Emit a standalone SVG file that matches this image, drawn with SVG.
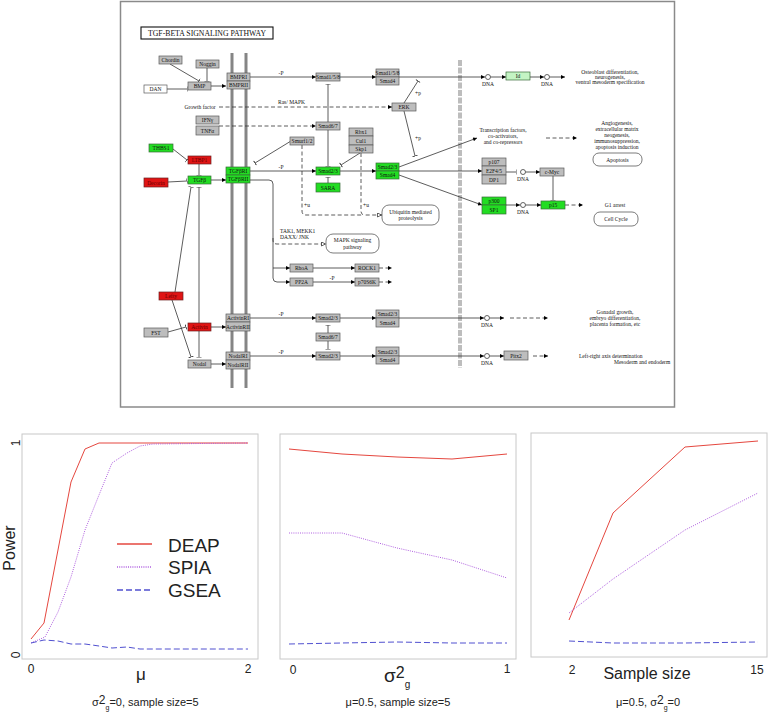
<svg xmlns="http://www.w3.org/2000/svg" width="771" height="715" viewBox="0 0 771 715">
<defs>
<style>
.n{fill:#bdbdbd;stroke:#5a5a5a;stroke-width:0.7}
.w{fill:#fff;stroke:#5a5a5a;stroke-width:0.7}
.g{fill:#22dd22;stroke:#3a6a3a;stroke-width:0.7}
.r{fill:#e01414;stroke:#6a2020;stroke-width:0.7}
.lg{fill:#c4f4c4;stroke:#3a6a3a;stroke-width:0.7}
.m{fill:#fff;stroke:#444;stroke-width:0.7}
text{font-family:"Liberation Serif",serif;font-size:5.5px;fill:#111}
.t{text-anchor:middle}
.rt{fill:#600}
.c{fill:none;stroke:#333;stroke-width:0.8}
.d{stroke-dasharray:4 2.5}
.ar{marker-end:url(#a)}
.tb{marker-end:url(#b)}
.oa{marker-end:url(#o)}
.dna{fill:#fff;stroke:#222;stroke-width:0.7}
.pf{fill:none;stroke:#c8c8c8;stroke-width:1}
.p{font-family:"Liberation Sans",Arial,sans-serif;fill:#222}
.deap{fill:none;stroke:#e5473f;stroke-width:1}
.spia{fill:none;stroke:#b060e0;stroke-width:1;stroke-dasharray:1 1.2}
.gsea{fill:none;stroke:#5050d0;stroke-width:1;stroke-dasharray:6 3}
</style>
<marker id="a" viewBox="0 0 10 10" refX="10" refY="5" markerWidth="5" markerHeight="4" orient="auto" markerUnits="userSpaceOnUse"><path d="M0,0L10,5L0,10z" fill="#000"/></marker>
<marker id="b" viewBox="0 0 2 10" refX="1" refY="5" markerWidth="1" markerHeight="7" orient="auto" markerUnits="userSpaceOnUse"><rect width="2" height="10" fill="#444"/></marker>
<marker id="o" viewBox="0 0 10 10" refX="10" refY="5" markerWidth="5" markerHeight="5" orient="auto" markerUnits="userSpaceOnUse"><path d="M1,1L9,5L1,9z" fill="#fff" stroke="#000" stroke-width="1.2"/></marker>
</defs>
<rect width="771" height="715" fill="#fff"/>

<g id="pathway-frame">
<rect x="120.5" y="1.5" width="554" height="405.5" fill="#fff" stroke="#8a8a8a" stroke-width="1.5"/>
<rect x="141" y="27" width="132" height="12" fill="#fff" stroke="#111" stroke-width="1.1"/>
<text x="207" y="36" class="t" style="font-size:8px" textLength="118" lengthAdjust="spacingAndGlyphs">TGF-BETA SIGNALING PATHWAY</text>
<line x1="232" y1="53" x2="232" y2="388" stroke="#858585" stroke-width="3"/>
<line x1="246" y1="53" x2="246" y2="388" stroke="#858585" stroke-width="3"/>
<line x1="460" y1="60" x2="460" y2="368" stroke="#bdbdbd" stroke-width="4" stroke-dasharray="6 1.5"/>
</g>

<g id="connectors">
<path class="c tb" d="M170,64L199,81"/>
<path class="c tb" d="M207,68L207,81"/>
<path class="c tb" d="M167,89L187,89"/>
<path class="c ar" d="M211,86L226,86"/>
<path class="c ar" d="M250,77L316,77"/>
<path class="c ar" d="M340,77L376,77"/>
<path class="c ar" d="M399,77L485,77"/>
<path class="c ar" d="M490.5,77L506,77"/>
<path class="c ar" d="M530,77L544,77"/>
<path class="c ar" d="M549.5,77L565,77"/>
<path class="c d ar" d="M219,107L392,107"/>
<path class="c d ar" d="M219,126L316,126"/>
<path class="c tb" d="M328,122L328,84"/>
<path class="c tb" d="M328,130L328,166"/>
<path class="c tb" d="M404,103L418,81"/>
<path class="c tb" d="M404,111L415,156"/>
<path class="c tb" d="M291,141L255,163"/>
<path class="c tb" d="M360,153L341,165"/>
<path class="c d" d="M302,145L302,211Q302,215 306,215L362,215"/>
<path class="c d oa" d="M361,153L361,211Q361,215 365,215L382,215"/>
<path class="c tb" d="M173,149L187,160"/>
<path class="c tb" d="M199,164L199,175"/>
<path class="c tb" d="M168,182L187,181"/>
<path class="c ar" d="M211,180L226,180"/>
<path class="c ar" d="M250,171L316,171"/>
<path class="c ar" d="M340,171L376,171"/>
<path class="c tb" d="M328,183L328,177"/>
<path class="c ar" d="M399,167L477,138"/>
<path class="c ar" d="M399,171L482,171"/>
<path class="c ar" d="M399,175L482,205"/>
<path class="c d ar" d="M546,138L577,138"/>
<path class="c tb" d="M506,172L516,172"/>
<path class="c ar" d="M525.5,172L540,172"/>
<path class="c tb" d="M553,176L553,200"/>
<path class="c ar" d="M506,205L520,205"/>
<path class="c ar" d="M525.5,205L541,205"/>
<path class="c d ar" d="M565,205L583,205"/>
<path class="c ar" d="M250,180L269,180Q273,180 273,184L273,278Q273,282 277,282L290,282"/>
<path class="c ar" d="M273,268L290,268"/>
<path class="c d oa" d="M273,238L273,240Q273,244 277,244L326,244"/>
<path class="c ar" d="M313,268L355,268"/>
<path class="c d ar" d="M379,268L392,268"/>
<path class="c ar" d="M313,282L355,282"/>
<path class="c d ar" d="M379,282L392,282"/>
<path class="c tb" d="M175,292L191,187"/>
<path class="c tb" d="M172,300L191,357"/>
<path class="c tb" d="M199,187L199,357" marker-start="url(#b)"/>
<path class="c tb" d="M168,332L186,327"/>
<path class="c ar" d="M211,327L226,327"/>
<path class="c ar" d="M250,318L316,318"/>
<path class="c ar" d="M340,318L376,318"/>
<path class="c ar" d="M399,318L484,318"/>
<path class="c ar" d="M489.5,318L504,318"/>
<path class="c d ar" d="M510,318L548,318"/>
<path class="c tb" d="M328,333L328,325"/>
<path class="c tb" d="M328,341L328,349"/>
<path class="c ar" d="M211,364L226,364"/>
<path class="c ar" d="M250,356L316,356"/>
<path class="c ar" d="M340,356L376,356"/>
<path class="c ar" d="M399,356L484,356"/>
<path class="c ar" d="M489.5,356L504,356"/>
<path class="c d ar" d="M533,356L548,356"/>
<circle class="dna" cx="488" cy="77" r="2.5"/>
<circle class="dna" cx="547" cy="77" r="2.5"/>
<circle class="dna" cx="523" cy="172" r="2.5"/>
<circle class="dna" cx="523" cy="205" r="2.5"/>
<circle class="dna" cx="487" cy="318" r="2.5"/>
<circle class="dna" cx="487" cy="356" r="2.5"/>
<text class="t" x="281" y="75">-P</text>
<text class="t" x="281" y="169">-P</text>
<text class="t" x="281" y="316">-P</text>
<text class="t" x="281" y="354">-P</text>
<text class="t" x="332" y="280">-P</text>
<text class="t" x="418" y="95">+p</text>
<text class="t" x="418" y="140">+p</text>
<text class="t" x="307" y="207">+u</text>
<text class="t" x="366" y="207">+u</text>
<text x="278" y="104">Ras/ MAPK</text>
</g>

<g id="labels">
<text class="t" x="200" y="109">Growth factor</text>
<text x="280" y="233">TAK1, MEKK1</text>
<text x="280" y="238.5">DAXX/ JNK</text>
<text class="t" x="488" y="86">DNA</text>
<text class="t" x="547" y="86">DNA</text>
<text class="t" x="523" y="181">DNA</text>
<text class="t" x="523" y="214">DNA</text>
<text class="t" x="487" y="327">DNA</text>
<text class="t" x="487" y="365">DNA</text>
<text class="t" x="610" y="74">Osteoblast differentiation,</text>
<text class="t" x="610" y="79">neurogenesis,</text>
<text class="t" x="610" y="84">ventral mesoderm specification</text>
<text class="t" x="503" y="132">Transcription factors,</text>
<text class="t" x="503" y="138">co-activators,</text>
<text class="t" x="503" y="144">and co-repressors</text>
<text class="t" x="617" y="125">Angiogenesis,</text>
<text class="t" x="617" y="131">extracellular matrix</text>
<text class="t" x="617" y="137">neogenesis,</text>
<text class="t" x="617" y="143">immunosuppression,</text>
<text class="t" x="617" y="149">apoptosis induction</text>
<text class="t" x="615" y="207">G1 arrest</text>
<text class="t" x="615" y="314">Gonadal growth,</text>
<text class="t" x="615" y="320">embryo differentiation,</text>
<text class="t" x="615" y="326">placenta formation, etc</text>
<text x="579" y="358">Left-right axis determination</text>
<text x="614" y="363.5">Mesoderm and endoderm</text>
</g>

<g id="chordin"><rect class="n" x="159" y="56" width="23" height="8"/><text class="t" x="170.5" y="62">Chordin</text></g>
<g id="noggin"><rect class="n" x="196" y="60" width="23" height="8"/><text class="t" x="207.5" y="66">Noggin</text></g>
<g id="bmp"><rect class="n" x="188" y="82" width="23" height="8"/><text class="t" x="199.5" y="88">BMP</text></g>
<g id="dan"><rect class="w" x="144" y="85" width="23" height="8"/><text class="t" x="155.5" y="91">DAN</text></g>
<g id="bmpr"><rect class="n" x="227" y="73" width="23" height="8"/><text class="t" x="238.5" y="79">BMPRI</text><rect class="n" x="227" y="81" width="23" height="8"/><text class="t" x="238.5" y="87">BMPRII</text></g>
<g id="ifng"><rect class="n" x="196" y="116" width="23" height="8"/><text class="t" x="207.5" y="122">IFNγ</text></g>
<g id="tnfa"><rect class="n" x="196" y="126" width="23" height="9"/><text class="t" x="207.5" y="132.5">TNFα</text></g>
<g id="thbs1"><rect class="g" x="149" y="144" width="24" height="8"/><text class="t" x="161" y="150">THBS1</text></g>
<g id="ltbp1"><rect class="r" x="188" y="156" width="23" height="8"/><text class="t rt" x="199.5" y="162">LTBP1</text></g>
<g id="tgfb"><rect class="g" x="188" y="176" width="23" height="8"/><text class="t" x="199.5" y="182">TGFβ</text></g>
<g id="decorin"><rect class="r" x="144" y="178" width="24" height="9"/><text class="t rt" x="156" y="184.5">Decorin</text></g>
<g id="tgfbr"><rect class="g" x="226" y="167" width="24" height="8"/><text class="t" x="238" y="173">TGFβRI</text><rect class="g" x="226" y="175" width="24" height="8"/><text class="t" x="238" y="181">TGFβRII</text></g>
<g id="lefty"><rect class="r" x="159" y="292" width="24" height="8"/><text class="t rt" x="171" y="298">Lefty</text></g>
<g id="fst"><rect class="n" x="144" y="328" width="24" height="9"/><text class="t" x="156" y="334.5">FST</text></g>
<g id="activin"><rect class="r" x="188" y="323" width="23" height="8"/><text class="t rt" x="199.5" y="329">Activin</text></g>
<g id="activinr"><rect class="n" x="226" y="314" width="24" height="8"/><text class="t" x="238" y="320">ActivinRI</text><rect class="n" x="226" y="322" width="24" height="9"/><text class="t" x="238" y="328.5">ActivinRII</text></g>
<g id="nodal"><rect class="n" x="188" y="360" width="23" height="8"/><text class="t" x="199.5" y="366">Nodal</text></g>
<g id="nodalr"><rect class="n" x="226" y="352" width="24" height="8"/><text class="t" x="238" y="358">NodalRI</text><rect class="n" x="226" y="360" width="24" height="9"/><text class="t" x="238" y="366.5">NodalRII</text></g>
<g id="smad158"><rect class="n" x="316" y="73" width="24" height="8"/><text class="t" x="328" y="79">Smad1/5/8</text></g>
<g id="smad158-smad4"><rect class="n" x="376" y="69" width="23" height="8"/><text class="t" x="387.5" y="75">Smad1/5/8</text><rect class="n" x="376" y="77" width="23" height="8"/><text class="t" x="387.5" y="83">Smad4</text></g>
<g id="erk"><rect class="n" x="392" y="103" width="24" height="8"/><text class="t" x="404" y="109">ERK</text></g>
<g id="smad67a"><rect class="n" x="316" y="122" width="24" height="8"/><text class="t" x="328" y="128">Smad6/7</text></g>
<g id="smurf"><rect class="n" x="290" y="137" width="24" height="8"/><text class="t" x="302" y="143">Smurf1/2</text></g>
<g id="scf"><rect class="n" x="349" y="128" width="24" height="8"/><text class="t" x="361" y="134">Rbx1</text><rect class="n" x="349" y="136" width="24" height="9"/><text class="t" x="361" y="142.5">Cul1</text><rect class="n" x="349" y="145" width="24" height="8"/><text class="t" x="361" y="151">Skp1</text></g>
<g id="smad23a"><rect class="g" x="316" y="167" width="24" height="8"/><text class="t" x="328" y="173">Smad2/3</text></g>
<g id="sara"><rect class="g" x="316" y="183" width="24" height="9"/><text class="t" x="328" y="189.5">SARA</text></g>
<g id="smad23-smad4a"><rect class="g" x="376" y="163" width="23" height="8"/><text class="t" x="387.5" y="169">Smad2/3</text><rect class="g" x="376" y="171" width="23" height="8"/><text class="t" x="387.5" y="177">Smad4</text></g>
<g id="rhoa"><rect class="n" x="290" y="264" width="23" height="8"/><text class="t" x="301.5" y="270">RhoA</text></g>
<g id="pp2a"><rect class="n" x="290" y="278" width="23" height="8"/><text class="t" x="301.5" y="284">PP2A</text></g>
<g id="rock1"><rect class="n" x="355" y="264" width="24" height="8"/><text class="t" x="367" y="270">ROCK1</text></g>
<g id="p70s6k"><rect class="n" x="355" y="278" width="24" height="8"/><text class="t" x="367" y="284">p70S6K</text></g>
<g id="smad23b"><rect class="n" x="316" y="314" width="24" height="8"/><text class="t" x="328" y="320">Smad2/3</text></g>
<g id="smad67b"><rect class="n" x="316" y="333" width="24" height="8"/><text class="t" x="328" y="339">Smad6/7</text></g>
<g id="smad23c"><rect class="n" x="316" y="352" width="24" height="8"/><text class="t" x="328" y="358">Smad2/3</text></g>
<g id="smad23-smad4b"><rect class="n" x="376" y="310" width="23" height="8"/><text class="t" x="387.5" y="316">Smad2/3</text><rect class="n" x="376" y="318" width="23" height="9"/><text class="t" x="387.5" y="324.5">Smad4</text></g>
<g id="smad23-smad4c"><rect class="n" x="376" y="347" width="23" height="9"/><text class="t" x="387.5" y="353.5">Smad2/3</text><rect class="n" x="376" y="356" width="23" height="8"/><text class="t" x="387.5" y="362">Smad4</text></g>
<g id="id"><rect class="lg" x="506" y="72" width="24" height="8"/><text class="t" x="518" y="78">Id</text></g>
<g id="e2f"><rect class="n" x="482" y="158" width="24" height="8"/><text class="t" x="494" y="164">p107</text><rect class="n" x="482" y="166" width="24" height="9"/><text class="t" x="494" y="172.5">E2F4/5</text><rect class="n" x="482" y="175" width="24" height="9"/><text class="t" x="494" y="181.5">DP1</text></g>
<g id="cmyc"><rect class="n" x="540" y="168" width="24" height="8"/><text class="t" x="552" y="174">c-Myc</text></g>
<g id="p300sp1"><rect class="g" x="482" y="197" width="24" height="8"/><text class="t" x="494" y="203">p300</text><rect class="g" x="482" y="205" width="24" height="9"/><text class="t" x="494" y="211.5">SP1</text></g>
<g id="p15"><rect class="g" x="541" y="201" width="24" height="8"/><text class="t" x="553" y="207">p15</text></g>
<g id="pitx2"><rect class="n" x="504" y="351" width="24" height="9"/><text class="t" x="516" y="357.5">Pitx2</text></g>
<g id="ubiquitin"><rect class="m" x="382" y="205" width="57" height="20" rx="7"/><text class="t" x="410.5" y="213.5">Ubiquitin mediated</text><text class="t" x="410.5" y="220">proteolysis</text></g>
<g id="mapk"><rect class="m" x="326" y="234" width="53" height="19" rx="7"/><text class="t" x="352.5" y="242">MAPK signaling</text><text class="t" x="352.5" y="248.5">pathway</text></g>
<g id="apoptosis"><rect class="m" x="593" y="153" width="49" height="13" rx="6"/><text class="t" x="617.5" y="161.5">Apoptosis</text></g>
<g id="cellcycle"><rect class="m" x="594" y="212" width="44" height="14" rx="6"/><text class="t" x="616" y="221">Cell Cycle</text></g>

<g id="panel1">
<rect class="pf" x="22" y="434" width="236" height="225"/>
<polyline class="deap" points="31,639 44,623 71,482 85,449 99,443 248,443"/>
<polyline class="spia" points="31,643 45,637 58,612 71,577 85,530 99,495 112,463 127,453 140,446 153,444 248,443"/>
<polyline class="gsea" points="31,643 44,640 58,641 71,644 85,644 99,646 112,648 127,647 140,649 248,649"/>
<line class="deap" x1="117" y1="544" x2="152" y2="544" style="stroke-width:1.5"/>
<line class="spia" x1="117" y1="567" x2="152" y2="567" style="stroke-width:1.5"/>
<line class="gsea" x1="117" y1="590" x2="152" y2="590" style="stroke-width:1.5"/>
<text class="p" x="168" y="552" style="font-size:19px">DEAP</text>
<text class="p" x="168" y="574" style="font-size:19px">SPIA</text>
<text class="p" x="168" y="597" style="font-size:19px">GSEA</text>
<text class="p t" transform="translate(15,548) rotate(-90)" style="font-size:16px">Power</text>
<text class="p t" transform="translate(20,443) rotate(-90)" style="font-size:12px">1</text>
<text class="p t" transform="translate(20,655) rotate(-90)" style="font-size:12px">0</text>
<text class="p t" x="31" y="673" style="font-size:12px">0</text>
<text class="p t" x="248" y="673" style="font-size:12px">2</text>
<text class="p t" x="141" y="680" style="font-size:17px">μ</text>
<text class="p" x="92" y="706" style="font-size:11px">σ<tspan dy="-2" style="font-size:12px">2</tspan><tspan dy="6" style="font-size:7px">g</tspan><tspan dy="-4">=0, sample size=5</tspan></text>
</g>

<g id="panel2">
<rect class="pf" x="280" y="434" width="236" height="225"/>
<polyline class="deap" points="289,449 342,454 397,457 452,459 507,454"/>
<polyline class="spia" points="289,533 342,533 397,548 452,560 507,578"/>
<polyline class="gsea" points="289,644 342,643 397,642 452,643 507,643"/>
<text class="p t" x="293" y="674" style="font-size:12px">0</text>
<text class="p t" x="507" y="673" style="font-size:12px">1</text>
<text class="p" x="384" y="682" style="font-size:19px">σ<tspan dy="-4" style="font-size:16px">2</tspan><tspan dy="10" style="font-size:10px">g</tspan></text>
<text class="p t" x="398" y="706" style="font-size:11px">μ=0.5, sample size=5</text>
</g>

<g id="panel3">
<rect class="pf" x="531" y="433" width="236" height="224"/>
<polyline class="deap" points="569,620 613,513 685,447 758,441"/>
<polyline class="spia" points="569,613 613,579 685,530 758,493"/>
<polyline class="gsea" points="569,641 613,643 685,643 758,642"/>
<text class="p t" x="572" y="674" style="font-size:12px">2</text>
<text class="p t" x="757" y="674" style="font-size:12px">15</text>
<text class="p t" x="647" y="679" style="font-size:16px">Sample size</text>
<text class="p" x="616" y="706" style="font-size:11px">μ=0.5, σ<tspan dy="-2" style="font-size:12px">2</tspan><tspan dy="6" style="font-size:7px">g</tspan><tspan dy="-4">=0</tspan></text>
</g>
</svg>
